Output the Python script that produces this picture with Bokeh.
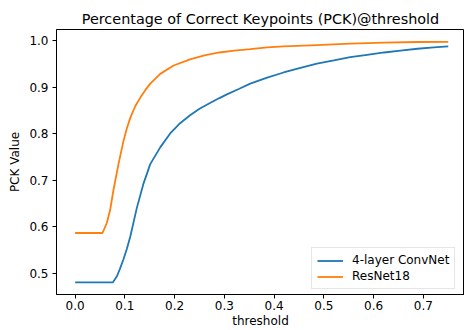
from bokeh.plotting import figure
from bokeh.models import Range1d, FixedTicker, Legend, LegendItem
from bokeh.embed import file_html
from bokeh.resources import INLINE

# 4-layer ConvNet PCK curve
conv_x = [0.0, 0.076, 0.084, 0.090, 0.097, 0.104, 0.111, 0.124, 0.137, 0.151,
          0.171, 0.191, 0.211, 0.231, 0.250, 0.272, 0.290, 0.305, 0.330, 0.352, 0.386,
          0.419, 0.453, 0.486, 0.520, 0.553, 0.587, 0.621, 0.654, 0.688, 0.721, 0.750]
conv_y = [0.481, 0.481, 0.494, 0.510, 0.530, 0.553, 0.580, 0.641, 0.692, 0.735,
          0.771, 0.801, 0.823, 0.840, 0.854, 0.867, 0.877, 0.885, 0.897, 0.908, 0.921,
          0.932, 0.942, 0.951, 0.958, 0.965, 0.970, 0.975, 0.979, 0.983, 0.986, 0.988]

# ResNet18 PCK curve
res_x = [0.0, 0.055, 0.0638, 0.0704, 0.0771, 0.0871, 0.0972, 0.104, 0.111, 0.121,
         0.131, 0.141, 0.151, 0.171, 0.198, 0.231, 0.260, 0.290, 0.320, 0.352, 0.386,
         0.419, 0.486, 0.553, 0.621, 0.688, 0.750]
res_y = [0.587, 0.587, 0.609, 0.637, 0.680, 0.735, 0.785, 0.812, 0.835, 0.860,
         0.878, 0.894, 0.908, 0.929, 0.947, 0.960, 0.969, 0.975, 0.979, 0.982, 0.986,
         0.988, 0.991, 0.994, 0.996, 0.9975, 0.998]

x_ticks = [0.0, 0.1, 0.2, 0.3, 0.4, 0.5, 0.6, 0.7]
x_tick_labels = ["0.0", "0.1", "0.2", "0.3", "0.4", "0.5", "0.6", "0.7"]
y_ticks = [0.5, 0.6, 0.7, 0.8, 0.9, 1.0]
y_tick_labels = ["0.5", "0.6", "0.7", "0.8", "0.9", "1.0"]

FONT = "DejaVu Sans"

p = figure(width=464, height=330, output_backend="svg", toolbar_location=None,
           x_range=Range1d(-0.0375, 0.7827), y_range=Range1d(0.4548, 1.0244),
           min_border_left=56, min_border_right=0, min_border_top=29, min_border_bottom=35,
           title="Percentage of Correct Keypoints (PCK)@threshold")

p.title.text_font = FONT
p.title.text_font_size = "14.4px"
p.title.text_font_style = "normal"
p.title.align = "center"
p.title.offset = 1
p.title.standoff = 6
p.title.text_color = "black"

p.xgrid.visible = False
p.ygrid.visible = False
p.outline_line_color = "black"
p.outline_line_width = 1
p.background_fill_color = "white"
p.border_fill_color = "white"

for ax, ticks, labels in ((p.xaxis[0], x_ticks, x_tick_labels), (p.yaxis[0], y_ticks, y_tick_labels)):
    ax.ticker = FixedTicker(ticks=ticks)
    ax.major_label_overrides = {t: l for t, l in zip(ticks, labels)}
    ax.minor_tick_line_color = None
    ax.major_tick_in = 0
    ax.major_tick_out = 4
    ax.major_tick_line_width = 1
    ax.axis_line_width = 1
    ax.major_label_text_font = FONT
    ax.major_label_text_font_size = "12px"
    ax.major_label_text_color = "black"
    ax.axis_label_text_font = FONT
    ax.axis_label_text_font_size = "12px"
    ax.axis_label_text_font_style = "normal"
    ax.axis_label_text_color = "black"

p.xaxis.major_label_standoff = 2
p.xaxis.axis_label_standoff = 1
p.yaxis.major_label_standoff = 4
p.yaxis.axis_label_standoff = 4

p.xaxis.axis_label = "threshold"
p.yaxis.axis_label = "PCK Value"

r1 = p.line(conv_x, conv_y, line_color="#1f77b4", line_width=1.8)
r2 = p.line(res_x, res_y, line_color="#ff7f0e", line_width=1.8)

legend = Legend(items=[LegendItem(label="4-layer ConvNet", renderers=[r1]),
                       LegendItem(label="ResNet18", renderers=[r2])],
                location=(255, 5))
legend.label_text_font = FONT
legend.label_text_font_size = "12px"
legend.label_text_color = "black"
legend.glyph_width = 26
legend.glyph_height = 13
legend.label_height = 13
legend.label_standoff = 9
legend.spacing = 2
legend.padding = 5
legend.margin = 0
legend.border_line_color = "#cccccc"
legend.border_line_width = 1
legend.background_fill_color = "white"
legend.background_fill_alpha = 0.8
p.add_layout(legend)

open("out.html", "w").write(file_html(p, INLINE))
